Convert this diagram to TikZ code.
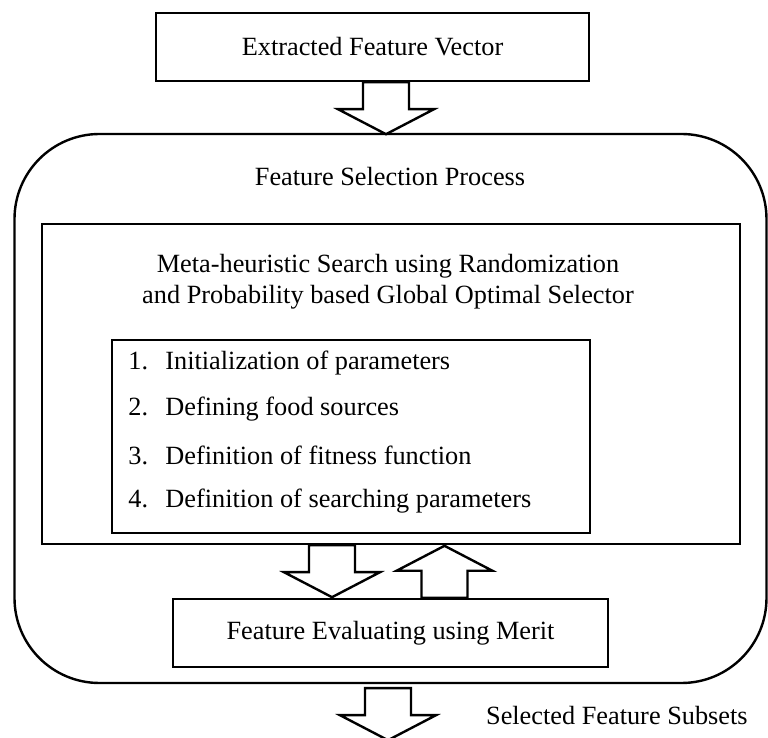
\documentclass[tikz,border=0pt]{standalone}
\usepackage{fontspec}
\setmainfont{Liberation Serif}
\usetikzlibrary{positioning}
\usetikzlibrary{calc}

\tikzset{
  box/.style={draw, line width=1.2pt, inner sep=0pt},
  steptext/.style={anchor=west, inner sep=0pt},
  blockdown/.pic={
    \draw[line width=1.2pt, fill=white] (-23,0) -- (23,0) -- (23,27) -- (48,27) -- (0,52) -- (-48,27) -- (-23,27) -- cycle;
  }
}

\begin{document}
\begin{tikzpicture}[x=0.5pt, y=-0.5pt, font=\fontsize{13.15}{15}\selectfont]
            \useasboundingbox (0,0) rectangle (768,738);
            % Outer process
            \node[box, rounded corners=42.5pt, minimum width=376pt, minimum height=274.5pt] (process) at (390.5,408.5) {};
            \node (processtitle) at (390,177) {Feature Selection Process};
            % Input
            \node[box, minimum width=216.5pt, minimum height=34pt] (input) at (372.5,47) {Extracted Feature Vector};
            % Search
            \node[box, minimum width=349pt, minimum height=160pt] (search) at (391,384) {};
            \node[align=center, inner sep=0pt] (searchtitle) at (388,282) {Meta-heuristic Search using Randomization\\[0.6pt]and Probability based Global Optimal Selector};
            \node[box, minimum width=239pt, minimum height=96.5pt] (steps) at (351,436.5) {};
            \node[steptext] (s1) at (128,363) {\makebox[18.5pt][l]{1.}Initialization of parameters};
            \node[steptext] (s2) at (128,409) {\makebox[18.5pt][l]{2.}Defining food sources};
            \node[steptext] (s3) at (128,455) {\makebox[18.5pt][l]{3.}Definition of fitness function};
            \node[steptext] (s4) at (128,501) {\makebox[18.5pt][l]{4.}Definition of searching parameters};
            % Evaluation
            \node[box, minimum width=217.5pt, minimum height=34pt] (merit) at (390.5,633) {Feature Evaluating using Merit};
            \node[anchor=east, inner sep=0pt] (output) at (748,716) {Selected Feature Subsets};
            % Arrows
            \pic at ($(input.south)+(13.5,0)$) {blockdown};
            \pic at ($(search.south)+(-59,0)$) {blockdown};
            \pic[rotate=180] at ($(merit.north)+(54,0)$) {blockdown};
            \pic at ($(process.south)+(-2.5,4)$) {blockdown};
        \end{tikzpicture}
\end{document}
